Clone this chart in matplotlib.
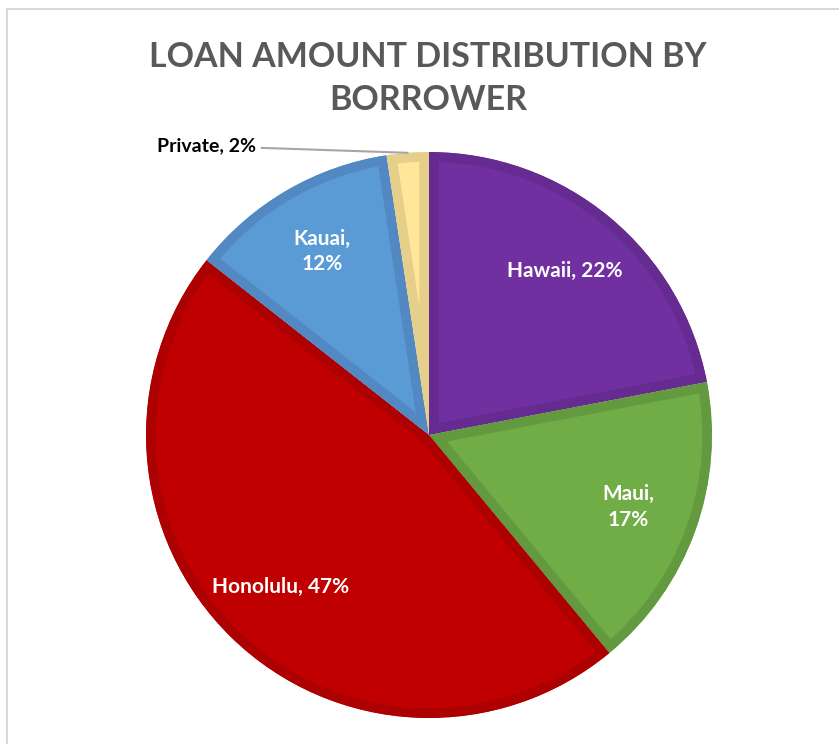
import numpy as np
import matplotlib.pyplot as plt

# data (shares in %; labels are rounded)
borrowers = ["Hawaii", "Maui", "Honolulu", "Kauai", "Private"]
shares = [22.0, 17.0, 46.6, 12.0, 2.4]
fill_colors = ["#7030A0", "#70AD47", "#C00000", "#5B9BD5", "#FFE699"]
edge_colors = ["#652B90", "#639A3F", "#AD0000", "#5289C2", "#E6CF8A"]
two_line = ["Maui", "Kauai"]

plt.rcParams['font.family'] = ['Lato', 'DejaVu Sans']

label_texts = []
for name, s in zip(borrowers, shares):
    sep = ",\n" if name in two_line else ", "
    label_texts.append(f"{name}{sep}{s:.0f}%")
inside_labels = label_texts[:-1] + [""]

W, H = 839, 744
fig = plt.figure(figsize=(W / 100, H / 100), dpi=100)
ax = fig.add_axes([0, 0, 1, 1])
ax.set_xlim(0, W)
ax.set_ylim(0, H)
ax.axis("off")

cx, cy, r = 429, H - 435, 283

wedges, texts = ax.pie(shares, colors=fill_colors, startangle=90, counterclock=False,
                       center=(cx, cy), radius=r, labels=inside_labels, labeldistance=0.75,
                       textprops=dict(color="white", fontsize=15, fontweight="bold",
                                      ha="center", va="center", linespacing=1.35),
                       wedgeprops=dict(linewidth=14))
ax.set_xlim(0, W)
ax.set_ylim(0, H)
ax.set_aspect("auto")

# darker inner border on each slice (edge clipped to the slice itself)
for w, ec in zip(wedges, edge_colors):
    w.set_edgecolor(ec)
    w.set_clip_on(True)
    w.set_clip_path(w)

# small slice label outside with leader line
w = wedges[-1]
ang = np.deg2rad((w.theta1 + w.theta2) / 2)
px, py = cx + r * np.cos(ang), cy + r * np.sin(ang)
ax.annotate(label_texts[-1], xy=(px, py), xytext=(256, H - 146),
            ha="right", va="center", fontsize=14, fontweight="bold", color="black",
            arrowprops=dict(arrowstyle="-", color="#A6A6A6", lw=1.5,
                            shrinkA=2, shrinkB=0))

# title
ax.text(428, H - 57, "LOAN AMOUNT DISTRIBUTION BY", ha="center", va="center",
        fontsize=24.5, fontweight="bold", color="#595959")
ax.text(428, H - 100, "BORROWER", ha="center", va="center",
        fontsize=24.5, fontweight="bold", color="#595959")

# chart frame
ax.plot([6.5, W], [H - 8.5, H - 8.5], color="#D9D9D9", lw=1.5)
ax.plot([6.5, 6.5], [0, H - 8.5], color="#D9D9D9", lw=1.5)

fig.savefig("out.png", dpi=100)
